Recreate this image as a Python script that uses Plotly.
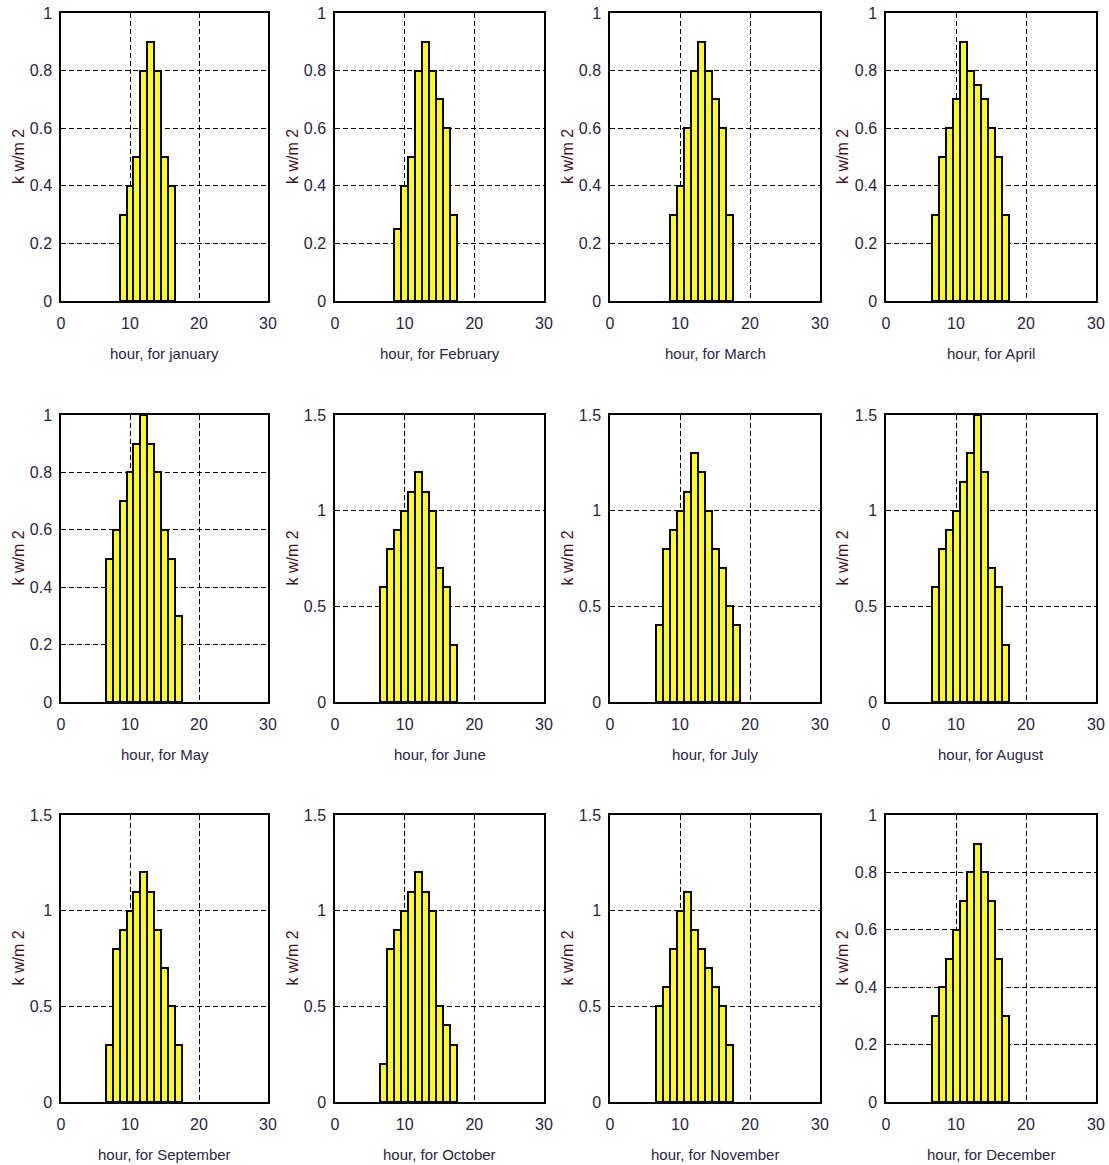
import plotly.graph_objects as go

months = ["january", "February", "March", "April", "May", "June",
          "July", "August", "September", "October", "November", "December"]

hours_jan = [9, 10, 11, 12, 13, 14, 15, 16]
vals_jan = [0.3, 0.4, 0.5, 0.8, 0.9, 0.8, 0.5, 0.4]
hours_feb = [9, 10, 11, 12, 13, 14, 15, 16, 17]
vals_feb = [0.25, 0.4, 0.5, 0.8, 0.9, 0.8, 0.7, 0.6, 0.3]
hours_mar = [9, 10, 11, 12, 13, 14, 15, 16, 17]
vals_mar = [0.3, 0.4, 0.6, 0.8, 0.9, 0.8, 0.7, 0.6, 0.3]
hours_apr = [7, 8, 9, 10, 11, 12, 13, 14, 15, 16, 17]
vals_apr = [0.3, 0.5, 0.6, 0.7, 0.9, 0.8, 0.75, 0.7, 0.6, 0.5, 0.3]
hours_may = [7, 8, 9, 10, 11, 12, 13, 14, 15, 16, 17]
vals_may = [0.5, 0.6, 0.7, 0.8, 0.9, 1.0, 0.9, 0.8, 0.6, 0.5, 0.3]
hours_jun = [7, 8, 9, 10, 11, 12, 13, 14, 15, 16, 17]
vals_jun = [0.6, 0.8, 0.9, 1.0, 1.1, 1.2, 1.1, 1.0, 0.7, 0.6, 0.3]
hours_jul = [7, 8, 9, 10, 11, 12, 13, 14, 15, 16, 17, 18]
vals_jul = [0.4, 0.8, 0.9, 1.0, 1.1, 1.3, 1.2, 1.0, 0.8, 0.7, 0.5, 0.4]
hours_aug = [7, 8, 9, 10, 11, 12, 13, 14, 15, 16, 17]
vals_aug = [0.6, 0.8, 0.9, 1.0, 1.15, 1.3, 1.5, 1.2, 0.7, 0.6, 0.3]
hours_sep = [7, 8, 9, 10, 11, 12, 13, 14, 15, 16, 17]
vals_sep = [0.3, 0.8, 0.9, 1.0, 1.1, 1.2, 1.1, 0.9, 0.7, 0.5, 0.3]
hours_oct = [7, 8, 9, 10, 11, 12, 13, 14, 15, 16, 17]
vals_oct = [0.2, 0.8, 0.9, 1.0, 1.1, 1.2, 1.1, 1.0, 0.5, 0.4, 0.3]
hours_nov = [7, 8, 9, 10, 11, 12, 13, 14, 15, 16, 17]
vals_nov = [0.5, 0.6, 0.8, 1.0, 1.1, 0.9, 0.8, 0.7, 0.6, 0.5, 0.3]
hours_dec = [7, 8, 9, 10, 11, 12, 13, 14, 15, 16, 17]
vals_dec = [0.3, 0.4, 0.5, 0.6, 0.7, 0.8, 0.9, 0.8, 0.7, 0.5, 0.3]

all_hours = [hours_jan, hours_feb, hours_mar, hours_apr, hours_may, hours_jun,
             hours_jul, hours_aug, hours_sep, hours_oct, hours_nov, hours_dec]
all_vals = [vals_jan, vals_feb, vals_mar, vals_apr, vals_may, vals_jun,
            vals_jul, vals_aug, vals_sep, vals_oct, vals_nov, vals_dec]

ymax = [1, 1, 1, 1, 1, 1.5, 1.5, 1.5, 1.5, 1.5, 1.5, 1]
x_ticks = [0, 10, 20, 30]
y_ticks_small = [0, 0.2, 0.4, 0.6, 0.8, 1]
y_ticktext_small = ["0", "0.2", "0.4", "0.6", "0.8", "1"]
y_ticks_big = [0, 0.5, 1, 1.5]
y_ticktext_big = ["0", "0.5", "1", "1.5"]

W, H = 1109, 1165
col_px = [(61, 268), (335, 544), (610, 820), (886, 1096)]
row_px = [(13, 301), (415, 702), (815, 1102)]
ylab_x = [18, 292, 567, 842]

FONT = "Liberation Sans Narrow, Arial Narrow, Liberation Sans, Arial, sans-serif"
TICKC = "#2a2448"

fig = go.Figure()
layout = dict(
    width=W, height=H, margin=dict(l=0, r=0, t=0, b=0, pad=0, autoexpand=False),
    paper_bgcolor="white", plot_bgcolor="white", showlegend=False,
    bargap=0, annotations=[],
)

for i in range(12):
    r, c = divmod(i, 4)
    xs = "x" if i == 0 else f"x{i+1}"
    ys = "y" if i == 0 else f"y{i+1}"
    xk = "xaxis" if i == 0 else f"xaxis{i+1}"
    yk = "yaxis" if i == 0 else f"yaxis{i+1}"
    fig.add_trace(go.Bar(
        x=all_hours[i], y=all_vals[i], width=1,
        marker=dict(color="#FFFF00", line=dict(color="black", width=2)),
        xaxis=xs, yaxis=ys, hoverinfo="x+y",
    ))
    x0, x1 = col_px[c]
    y0, y1 = row_px[r]
    layout[xk] = dict(
        domain=[x0 / W, x1 / W], anchor=ys, range=[0, 30],
        tickvals=x_ticks, showgrid=True, gridcolor="black", gridwidth=1,
        griddash="5px,3px", zeroline=False, showline=True, linecolor="black",
        linewidth=1.5, mirror=True, ticks="", ticklabelstandoff=7,
        tickfont=dict(family=FONT, size=16, color=TICKC), fixedrange=True,
        automargin=False,
    )
    if ymax[i] == 1:
        tv, tt = y_ticks_small, y_ticktext_small
    else:
        tv, tt = y_ticks_big, y_ticktext_big
    layout[yk] = dict(
        domain=[1 - y1 / H, 1 - y0 / H], anchor=xs, range=[0, ymax[i]],
        tickvals=tv, ticktext=tt, showgrid=True, gridcolor="black", gridwidth=1,
        griddash="5px,3px", zeroline=False, showline=True, linecolor="black",
        linewidth=1.5, mirror=True, ticks="", ticklabelstandoff=4,
        tickfont=dict(family=FONT, size=16, color=TICKC), fixedrange=True,
        automargin=False,
    )
    layout["annotations"].append(dict(
        text=f"hour, for {months[i]}", xref="paper", yref="paper",
        x=(x0 + x1) / 2 / W, y=1 - (y1 + 52) / H, xanchor="center", yanchor="middle",
        showarrow=False, font=dict(family=FONT, size=15, color="#2a2448"),
    ))
    layout["annotations"].append(dict(
        text="k w/m 2", xref="paper", yref="paper",
        x=ylab_x[c] / W, y=1 - (y0 + y1) / 2 / H, xanchor="center", yanchor="middle",
        textangle=-90, showarrow=False,
        font=dict(family=FONT, size=16, color="#4a1020"),
    ))

fig.update_layout(**layout)
fig.write_html("out.html", config={"displayModeBar": False},
               post_script="document.body.style.margin='0';document.body.style.padding='0';")
